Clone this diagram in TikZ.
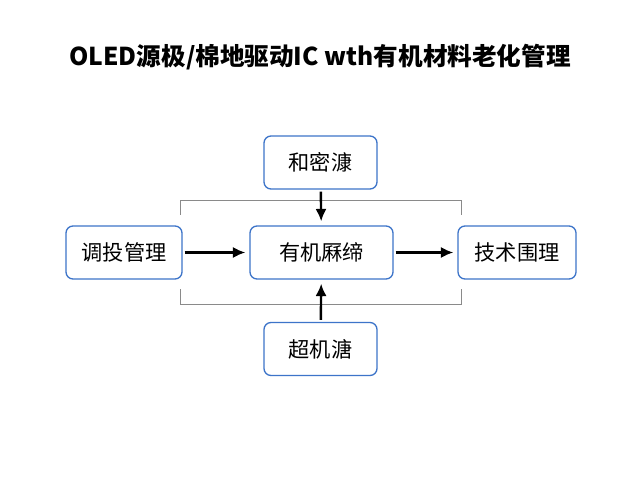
\documentclass[tikz,border=0pt]{standalone}
\usepackage{fontspec}
\setmainfont{Noto Sans CJK SC}
\usetikzlibrary{shapes,arrows.meta}
\definecolor{boxblue}{HTML}{3D74C9}
\definecolor{brgray}{HTML}{8A8A8A}

\begin{document}
\begin{tikzpicture}[x=0.5pt,y=-0.5pt,
     box/.style={draw=boxblue,fill=white,line width=0.65pt,rounded corners=3.5pt,
                 minimum height=26.5pt,inner sep=0pt,font=\fontsize{10.6}{12}\selectfont},
     arr/.style={-{Latex[length=6.2pt,width=5.6pt]},line width=1.2pt,shorten <=1pt,shorten >=2pt},
     bracket/.style={draw=brgray,line width=0.5pt}
     ]
%Page size (pixels of the reference)
\def \W{640}
\def \H{480}
\useasboundingbox[fill=white] (0,0) rectangle (\W,\H);

%Title
\node (title) at (320,57) {\fontsize{12.3}{14}\selectfont\textbf{OLED源极/棉地驱动IC wth有机材料老化管理}};

%Brackets round the middle row
\draw[bracket] (180,215) -- (180,201) -- (461,201) -- (461,215);
\draw[bracket] (180,289) -- (180,304) -- (461,304) -- (461,289);

%Boxes
\node[box,minimum width=56.5pt] (top)    at (320.5,162.5) {和密漮};
\node[box,minimum width=58pt]   (left)   at (124,252.5)   {调投管理};
\node[box,minimum width=71.5pt] (centre) at (321.5,252.5) {有机厤缔};
\node[box,minimum width=59pt]   (right)  at (517,252.5)   {技术围理};
\node[box,minimum width=56.5pt] (bottom) at (320.5,349)   {超机溏};

%Arrows
\draw[arr] (left) -- (centre);
\draw[arr] (centre) -- (right);
\draw[arr] (top) -- (centre);
\draw[arr] (bottom) -- (centre);
\end{tikzpicture}
\end{document}
